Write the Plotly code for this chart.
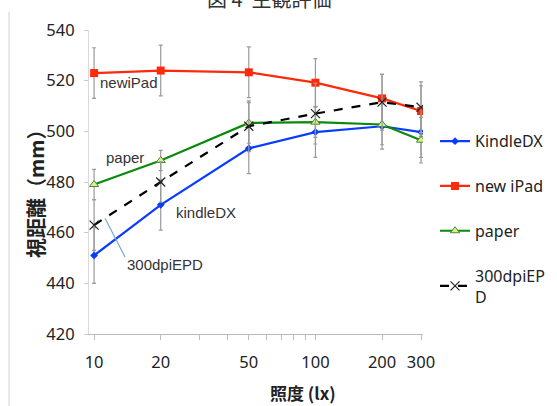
import plotly.graph_objects as go

lux = [10, 20, 50, 100, 200, 300]
kindle = [451, 471, 493.3, 499.7, 502, 499.7]
ipad = [523, 524, 523.3, 519.2, 513, 508]
paper = [479, 488.5, 503.3, 503.6, 502.7, 496.5]
epd = [463, 480, 502, 507, 511.5, 509.5]

kindle_err = [11, 10, 10, 10, 9, 10]
ipad_err = [10, 10, 10, 9.5, 9.5, 10]
paper_err = [6, 4, 8, 6, 8, 9]
epd_err = [10, 8, 10, 12, 11, 10]

xtick_vals = [10, 20, 50, 100, 200, 300]
xminor_vals = [30, 40, 60, 70, 80, 90]

err_style = dict(type="data", color="#9a9a9a", thickness=1.2, width=2)

fig = go.Figure()
fig.add_trace(go.Scatter(
    x=lux, y=kindle, name="KindleDX", mode="lines+markers", legendgroup="a",
    line=dict(color="#0a3cff", width=2.2),
    marker=dict(symbol="diamond", size=6, color="#0a3cff"),
    error_y=dict(array=kindle_err, **err_style)))
fig.add_trace(go.Scatter(
    x=lux, y=ipad, name="new iPad", mode="lines+markers", legendgroup="b",
    line=dict(color="#ff2a0a", width=2.2),
    marker=dict(symbol="square", size=8, color="#ff2a0a"),
    error_y=dict(array=ipad_err, **err_style)))
fig.add_trace(go.Scatter(
    x=lux, y=paper, name="paper", mode="lines+markers", legendgroup="c",
    line=dict(color="#0a8a0a", width=2.2),
    marker=dict(symbol="triangle-up", size=8, color="#d8ee9a",
                line=dict(color="#4a8a2a", width=1)),
    error_y=dict(array=paper_err, **err_style)))
fig.add_trace(go.Scatter(
    x=lux, y=epd, name="300dpiEP<br>D", mode="lines+markers", legendgroup="d",
    line=dict(color="#000000", width=2.2, dash="dash"),
    marker=dict(symbol="x-thin-open", size=9, color="#222222",
                line=dict(color="#222222", width=1.2)),
    error_y=dict(array=epd_err, **err_style)))

ann_font = dict(family="Liberation Sans, Arial", size=15, color="#333333")
annotations = [
    dict(text="newiPad", x=0.027, y=0.828, xanchor="left", yanchor="middle"),
    dict(text="paper", x=0.045, y=0.581, xanchor="left", yanchor="middle"),
    dict(text="kindleDX", x=0.254, y=0.401, xanchor="left", yanchor="middle"),
    dict(text="300dpiEPD", x=0.108, y=0.227, xanchor="left", yanchor="middle"),
]
anns = []
for a in annotations:
    a.update(xref="paper", yref="paper", showarrow=False, font=ann_font)
    anns.append(a)

cjk = "Noto Sans CJK JP, Noto Sans CJK SC, sans-serif"
anns.append(dict(text="<b>照度 (lx)</b>", xref="paper", yref="paper", x=0.64, y=-0.194,
                 showarrow=False, xanchor="center", yanchor="middle",
                 font=dict(family=cjk, size=17, color="#222222")))
anns.append(dict(text="<b>視距離（mm）</b>", xref="paper", yref="paper", x=-0.162, y=0.48,
                 showarrow=False, textangle=-90, xanchor="center", yanchor="middle",
                 font=dict(family=cjk, size=20, color="#222222")))
anns.append(dict(text="図 4  主観評価", xref="paper", yref="paper", x=0.54, y=1.102,
                 showarrow=False, xanchor="center", yanchor="middle",
                 font=dict(family=cjk, size=20, color="#333333")))

shapes = [
    dict(type="line", xref="paper", yref="paper", x0=0.048, y0=0.381, x1=0.108, y1=0.253,
         line=dict(color="#7aa6d6", width=1.2)),
    dict(type="line", xref="paper", yref="paper", x0=-0.2395, y0=1.06, x1=-0.2395, y1=-0.24,
         line=dict(color="#d0d0d0", width=1)),
]

fig.update_layout(
    width=557, height=406,
    margin=dict(l=89, r=134, t=29.5, b=72, autoexpand=False),
    paper_bgcolor="white", plot_bgcolor="white",
    showlegend=True,
    legend=dict(x=1.036, y=0.69, xanchor="left", yanchor="top",
                font=dict(family="Noto Sans", size=16, color="#222222"),
                itemwidth=30,
                tracegroupgap=21, bgcolor="rgba(0,0,0,0)"),
    annotations=anns, shapes=shapes,
    font=dict(family="Noto Sans", size=16, color="#222222"),
)
fig.update_xaxes(
    type="log", range=[0.977, 2.486],
    tickvals=xtick_vals, ticktext=[str(v) for v in xtick_vals],
    ticks="outside", ticklen=5, tickcolor="#bbbbbb",
    minor=dict(tickvals=xminor_vals, ticks="outside", ticklen=5, tickcolor="#bbbbbb"),
    showline=True, linecolor="#bbbbbb", linewidth=1,
    showgrid=False, zeroline=False,
    tickfont=dict(family="Noto Sans", size=16.5, color="#222222"),
    ticklabelstandoff=8,
)
fig.update_yaxes(
    range=[420, 540], tickvals=[420, 440, 460, 480, 500, 520, 540],
    ticks="outside", ticklen=4, tickcolor="#cccccc",
    showline=True, linecolor="#d9d9d9", linewidth=1,
    showgrid=False, zeroline=False,
    tickfont=dict(family="Noto Sans", size=16.5, color="#222222"),
    ticklabelstandoff=6,
)

fig.write_html("out.html")
